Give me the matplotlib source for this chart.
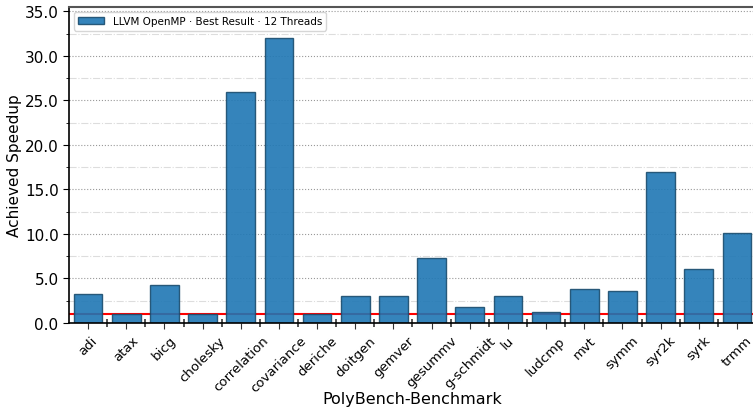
import numpy as np
import matplotlib
matplotlib.use("Agg")
import matplotlib.pyplot as plt
from matplotlib.ticker import MultipleLocator, FixedLocator, FormatStrFormatter

benchmarks = ["adi", "atax", "bicg", "cholesky", "correlation", "covariance", "deriche",
              "doitgen", "gemver", "gesummv", "g-schmidt", "lu", "ludcmp", "mvt", "symm",
              "syr2k", "syrk", "trmm"]
speedup = [3.26, 1.0, 4.28, 1.0, 26.0, 32.07, 1.0, 3.04, 3.04, 7.3, 1.8, 3.04, 1.2,
           3.8, 3.6, 17.0, 6.07, 10.1]
label = "LLVM OpenMP \u00b7 Best Result \u00b7 12 Threads"

fig = plt.figure(figsize=(7.53, 4.10), dpi=100)
ax = fig.add_axes([69 / 753, 86 / 410, 687 / 753, 316 / 410])

x = np.arange(len(benchmarks))
ax.axhline(1.0, color="red", lw=1.5, zorder=1)
ax.bar(x, speedup, width=0.75, color="#1f77b4", alpha=0.9, edgecolor="#1b4d6e",
       linewidth=1.0, zorder=2, label=label)

ax.set_xlim(-0.5, len(benchmarks) - 0.5)
ax.set_ylim(0, 35.5)
ax.yaxis.set_major_locator(MultipleLocator(5))
ax.yaxis.set_minor_locator(MultipleLocator(2.5))
ax.yaxis.set_major_formatter(FormatStrFormatter("%.1f"))
ax.grid(axis="y", which="major", ls=":", color="#999999", lw=0.8, zorder=0)
ax.grid(axis="y", which="minor", ls="-.", color="#dddddd", lw=0.8, zorder=0)
ax.set_axisbelow(True)

# rotated labels centred on the ticks
ax.set_xticks(x)
ax.set_xticklabels(benchmarks, rotation=45, ha="center", fontsize=9.5)
ax.xaxis.set_minor_locator(FixedLocator(x[:-1] + 0.5))
ax.tick_params(axis="x", which="minor", direction="inout", length=6, width=1.2, color="#333333")
ax.tick_params(axis="x", which="major", direction="out", length=4, color="#333333")
ax.tick_params(axis="y", which="major", labelsize=11, length=4)
ax.tick_params(axis="y", which="minor", length=2.5)

for s in ["left", "bottom"]:
    ax.spines[s].set_color("black")
    ax.spines[s].set_linewidth(1.2)
ax.spines["top"].set_color("#555555")
ax.spines["top"].set_linewidth(1.5)
ax.spines["right"].set_visible(False)

ax.set_xlabel("PolyBench-Benchmark", fontsize=11.5)
ax.xaxis.set_label_coords(0.5, -0.215)
ax.set_ylabel("Achieved Speedup", fontsize=11)
ax.yaxis.set_label_coords(-0.068, 0.5)
ax.legend(loc="upper left", fontsize=7.5, frameon=True, fancybox=True, framealpha=0.8,
          handlelength=2.5)

fig.savefig("out.png", dpi=100)
